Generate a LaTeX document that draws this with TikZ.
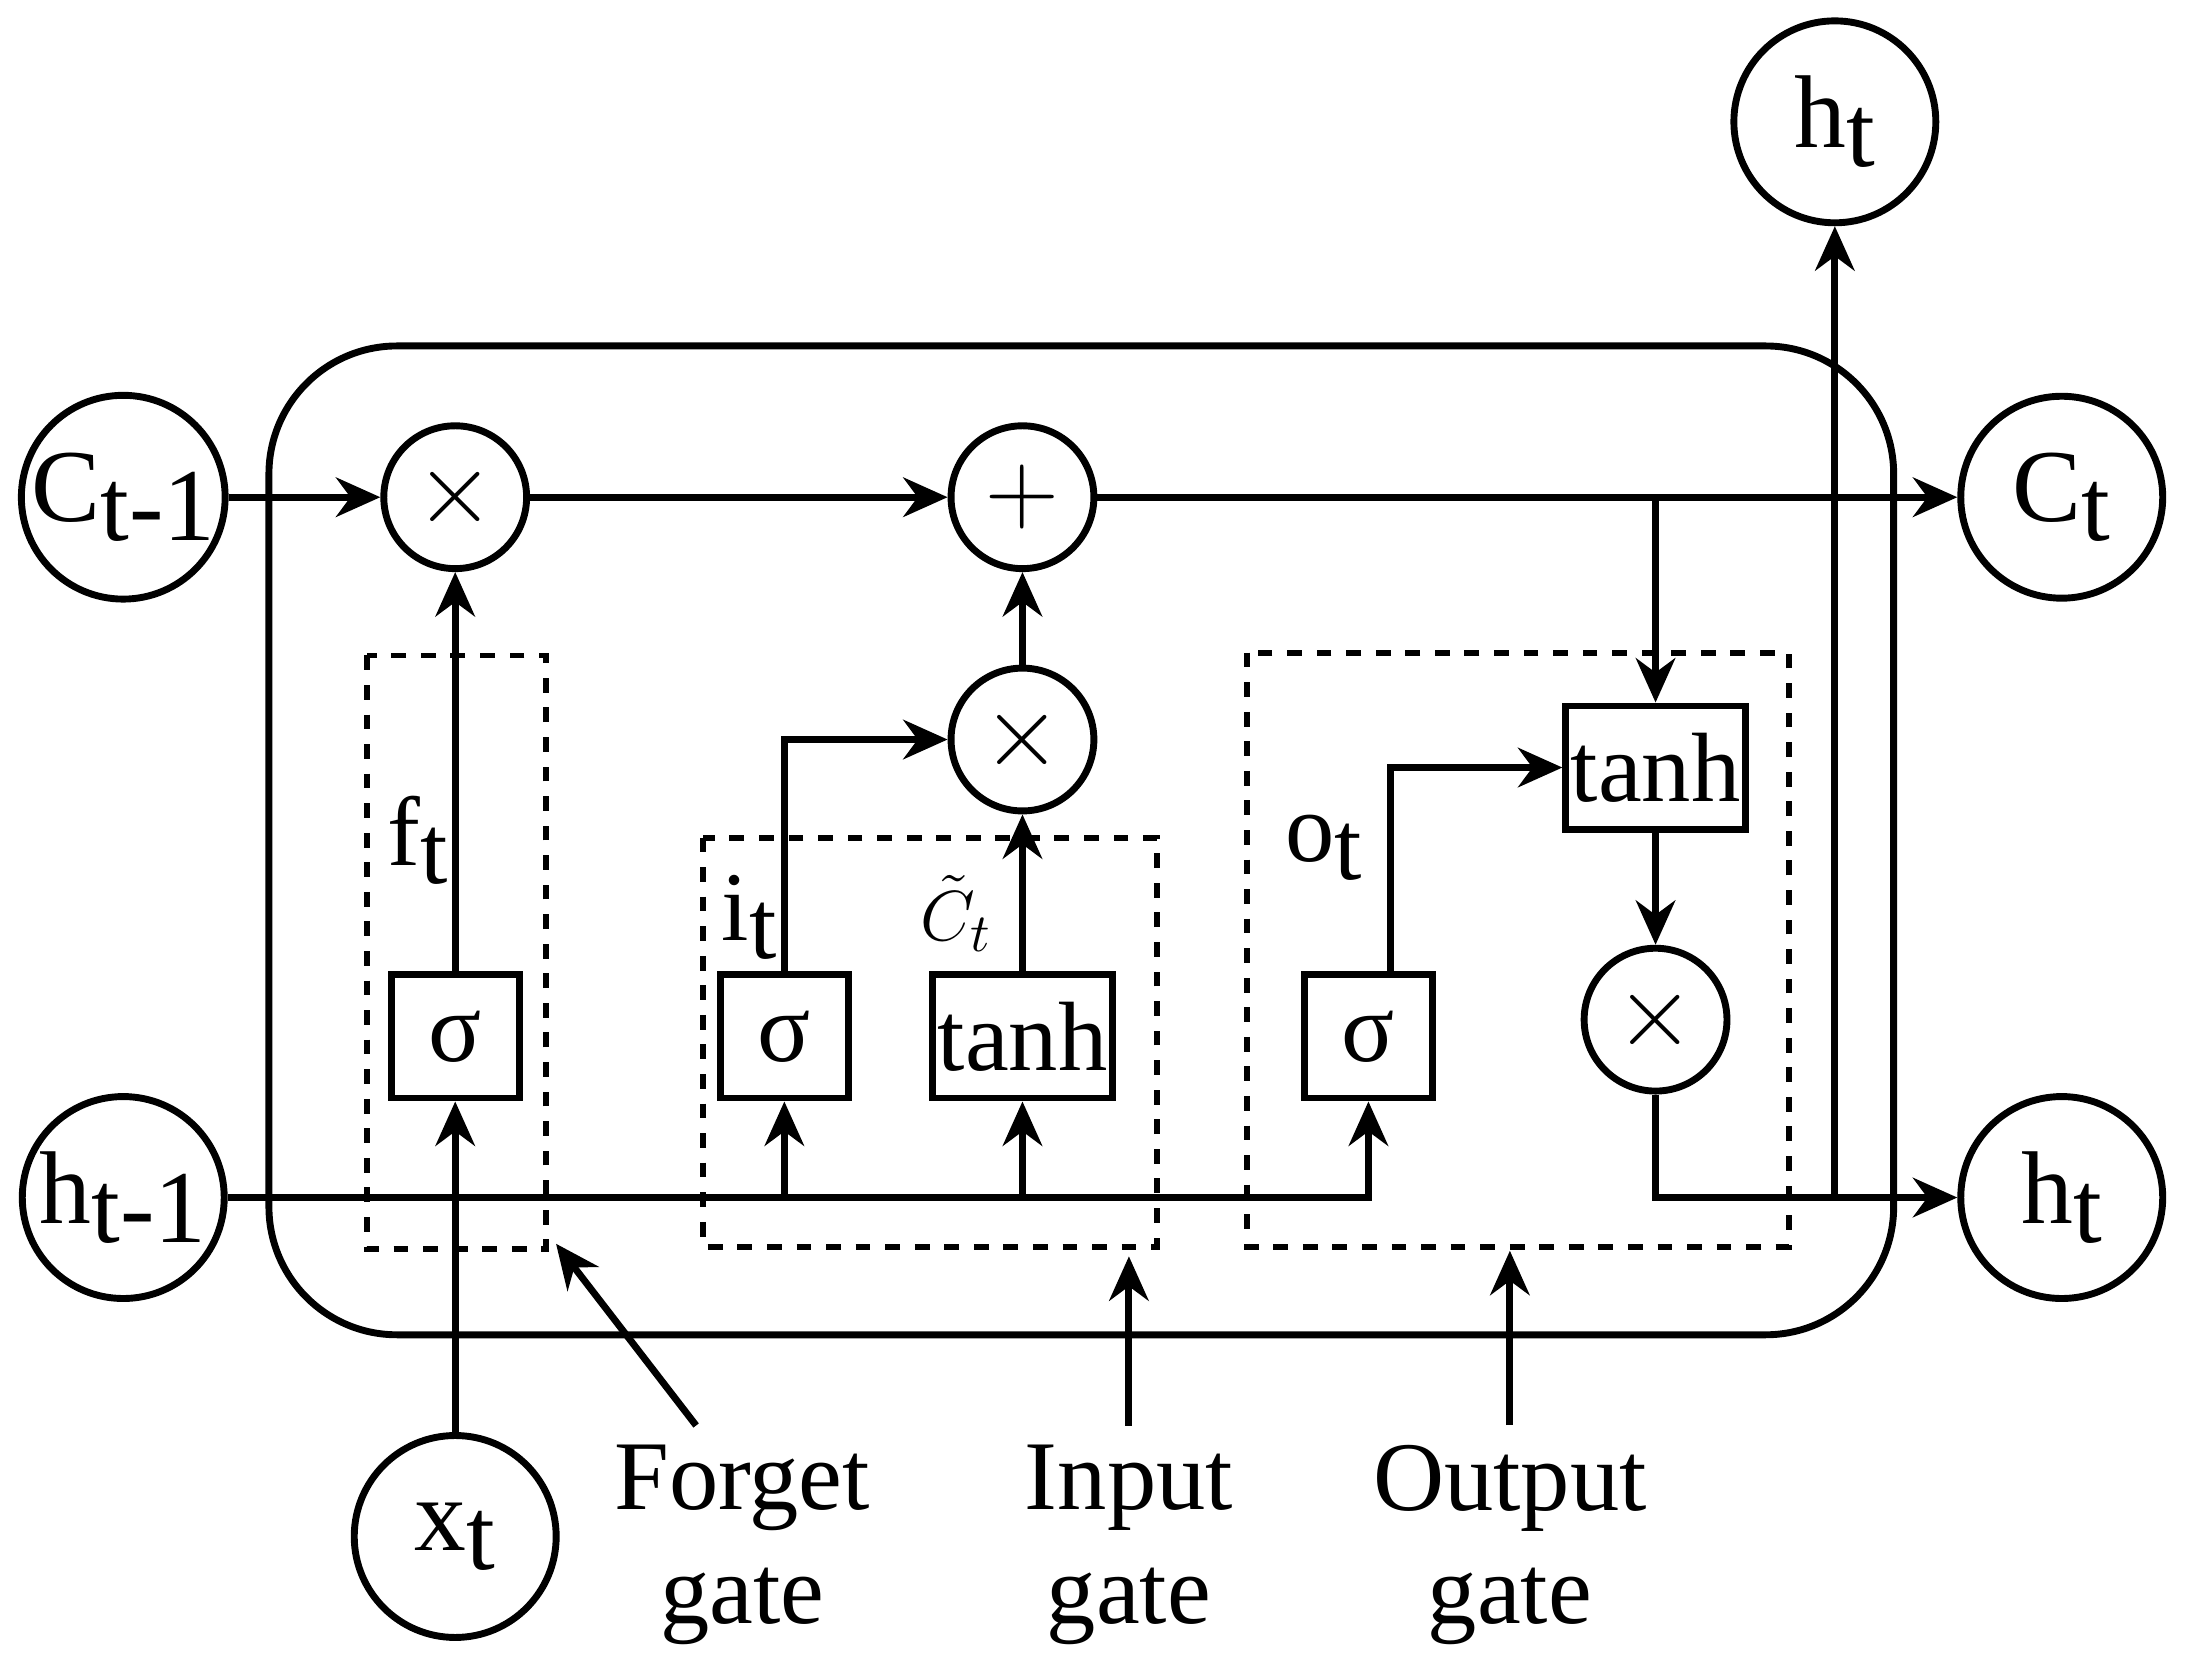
\documentclass[tikz,border=0pt]{standalone}
\usepackage{fontspec}
\setmainfont{Liberation Serif}
\usetikzlibrary{arrows.meta}
\newcommand{\lsub}[1]{\raisebox{-0.4ex}{#1}}
\begin{document}
\begin{tikzpicture}[x=0.01cm,y=-0.01cm,line width=1.4pt,
  >={Stealth[length=9pt,width=8pt]},
  io/.style={circle,draw,minimum size=41pt,inner sep=0pt,font=\fontsize{21}{24}\selectfont},
  op/.style={circle,draw,minimum size=29pt,inner sep=0pt,font=\fontsize{22}{24}\selectfont},
  box/.style={draw,minimum height=25pt,inner sep=1pt,font=\fontsize{20}{24}\selectfont},
  gate/.style={draw,dashed,line width=1.2pt},
  lbl/.style={font=\fontsize{20}{24}\selectfont},
  gcap/.style={font=\fontsize{20}{23}\selectfont,align=center}]
\useasboundingbox (0,0) rectangle (1560,1192);
% cell
\draw[rounded corners=26pt] (192,247) rectangle (1352,953);
% gates
\draw[gate] (262,468) rectangle (390,892);
\draw[gate] (502,598) rectangle (826,890);
\draw[gate] (890,466) rectangle (1277,890);
% nodes
\node[io] (c0) at (88,355) {C\lsub{t-1}};
\node[io] (h0) at (88,855) {h\lsub{t-1}};
\node[io] (x) at (325,1097) {x\lsub{t}};
\node[io] (htop) at (1310,87) {h\lsub{t}};
\node[io] (c1) at (1472,355) {C\lsub{t}};
\node[io] (h1) at (1472,855) {h\lsub{t}};
\node[op] (mf) at (325,355) {$\times$};
\node[op] (add) at (730,355) {$+$};
\node[op] (mi) at (730,528) {$\times$};
\node[op] (mo) at (1182,728) {$\times$};
\node[box,minimum width=26pt] (sf) at (325,740) {σ};
\node[box,minimum width=26pt] (si) at (560,740) {σ};
\node[box,minimum width=36pt] (ti) at (730,740) {tanh};
\node[box,minimum width=26pt] (so) at (977,740) {σ};
\node[box,minimum width=36pt] (to) at (1182,548) {tanh};
% labels
\node[lbl] (lf) at (298,600) {f\lsub{t}};
\node[lbl] (li) at (535,655) {i\lsub{t}};
\node[lbl,font=\fontsize{15}{18}\selectfont] (lc) at (683,652) {$\tilde{C}_t$};
\node[lbl] (lo) at (945,605) {o\lsub{t}};
% cell state
\draw[->] (c0) -- (mf);
\draw[->] (mf) -- (add);
\draw[->] (add) -- (c1);
\coordinate (bc) at (1182,355);
\draw[->] (bc) -- (to);
% hidden input
\coordinate (hj) at (977,855);
\draw[->] (h0) -- (hj) -- (so);
\draw[->] (560,855) -- (si);
\draw[->] (730,855) -- (ti);
\draw[->] (x) -- (sf);
% gate paths
\draw[->] (sf) -- (mf);
\draw[->] (si) |- (mi);
\draw[->] (ti) -- (mi);
\draw[->] (mi) -- (add);
\draw[->] (so.north -| 993,0) |- (to);
\draw[->] (to) -- (mo);
\coordinate (ho) at (1310,855);
\draw[->] (mo) |- (h1);
\draw[->] (ho) -- (htop);
% captions
\node[gcap] (cf) at (530,1103) {Forget\\gate};
\node[gcap] (ci) at (806,1103) {Input\\gate};
\node[gcap] (co) at (1078,1103) {Output\\gate};
\draw[->] (cf.north -| 497,0) -- (397,888);
\draw[->] (ci) -- (806,897);
\draw[->] (co) -- (1078,893);
\end{tikzpicture}
\end{document}
